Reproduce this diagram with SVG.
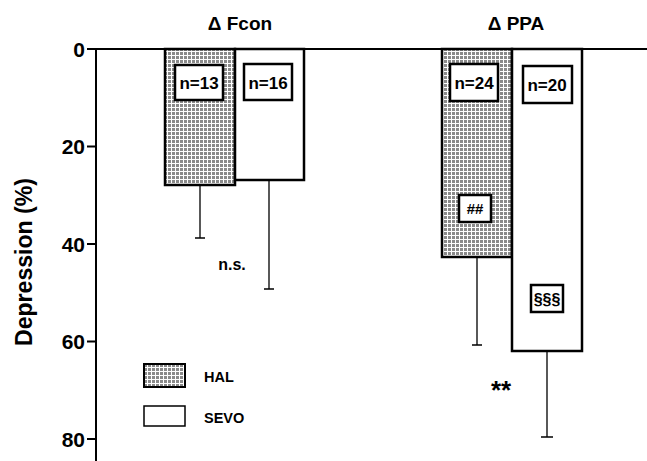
<svg xmlns="http://www.w3.org/2000/svg" width="647" height="461" viewBox="0 0 647 461">
<defs>
<pattern id="stip" width="4" height="4" patternUnits="userSpaceOnUse">
<rect width="4" height="4" fill="#fff"/>
<rect width="3" height="3" fill="#8a8a8a"/>
</pattern>
</defs>
<style>
text{font-family:"Liberation Sans",Arial,sans-serif;font-weight:bold;fill:#000}
.tick{font-size:21px;text-anchor:end}
.title{font-size:19px;text-anchor:middle}
.n{font-size:17px;text-anchor:middle}
.lbl{font-size:14.5px}
.ax{stroke:#000;stroke-width:2;fill:none}
.bar{stroke:#000;stroke-width:2.5}
.err{stroke:#000;stroke-width:1.3;fill:none}
.box{fill:#fff;stroke:#000;stroke-width:2.5}
</style>
<rect width="647" height="461" fill="#fff"/>
<g id="axes">
<path class="ax" d="M96,49 H647 M96,49 V461"/>
<path class="ax" d="M87,49 H96 M87,146.5 H96 M87,244 H96 M87,341.5 H96 M87,439 H96"/>
<text class="tick" x="85" y="57">0</text>
<text class="tick" x="85" y="154">20</text>
<text class="tick" x="85" y="252">40</text>
<text class="tick" x="85" y="349">60</text>
<text class="tick" x="85" y="447">80</text>
<text transform="translate(32,262) rotate(-90)" style="font-size:24px;text-anchor:middle" textLength="168" lengthAdjust="spacingAndGlyphs">Depression (%)</text>
<text class="title" x="240" y="30">Δ Fcon</text>
<text class="title" x="516" y="30">Δ PPA</text>
</g>
<g id="connectors">
<path class="err" d="M200,185 V238 M195,238 H205"/>
<path class="err" d="M269,180 V289 M264,289 H274"/>
<path class="err" d="M477,257 V345 M472,345 H482"/>
<path class="err" d="M547,351 V437 M541,437 H553"/>
</g>
<g id="bar-fcon-hal">
<rect class="bar" x="165" y="49" width="70" height="136" fill="url(#stip)"/>
<rect class="box" x="175" y="65" width="48" height="35"/>
<text class="n" x="199" y="89">n=13</text>
</g>
<g id="bar-fcon-sevo">
<rect class="bar" x="235" y="49" width="69" height="131" fill="#fff"/>
<rect class="box" x="244" y="64" width="48" height="36"/>
<text class="n" x="268" y="89">n=16</text>
</g>
<g id="bar-ppa-hal">
<rect class="bar" x="442" y="49" width="70" height="208" fill="url(#stip)"/>
<rect class="box" x="450" y="64" width="48" height="37"/>
<text class="n" x="474" y="89">n=24</text>
<rect class="box" x="459" y="195" width="32" height="27"/>
<text class="n" x="475" y="214" style="font-size:15px">##</text>
</g>
<g id="bar-ppa-sevo">
<rect class="bar" x="512" y="49" width="70" height="302" fill="#fff"/>
<rect class="box" x="523" y="66" width="49" height="37"/>
<text class="n" x="547" y="91">n=20</text>
<rect class="box" x="531" y="285" width="32" height="27"/>
<text class="n" x="547" y="305" style="font-size:16px">§§§</text>
</g>
<g id="annotations">
<text x="232" y="270" style="font-size:16px;text-anchor:middle">n.s.</text>
<text x="501" y="399" style="font-size:26px;text-anchor:middle">**</text>
</g>
<g id="legend">
<rect x="144" y="364" width="41" height="23" fill="url(#stip)" stroke="#000" stroke-width="2"/>
<rect x="144" y="406" width="41" height="20" fill="#fff" stroke="#000" stroke-width="1.5"/>
<text class="lbl" x="204" y="382">HAL</text>
<text class="lbl" x="204" y="423">SEVO</text>
</g>
</svg>
